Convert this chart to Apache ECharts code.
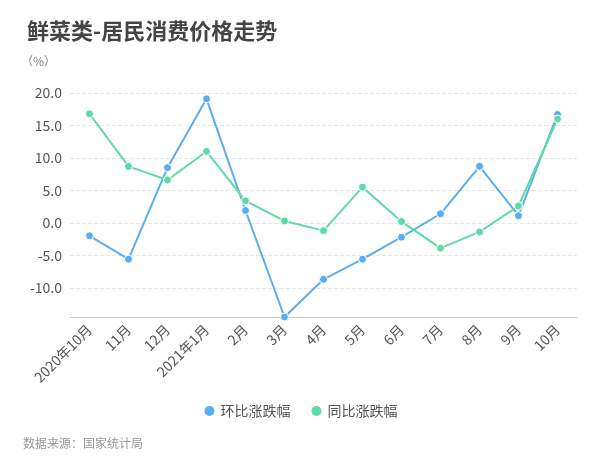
<!DOCTYPE html>
<html><head><meta charset="utf-8">
<script src="https://cdn.jsdelivr.net/npm/echarts@6/dist/echarts.min.js"></script>
<style>html,body{margin:0;padding:0;background:#fff}#c{width:600px;height:470px}</style>
</head><body><div id="c"></div>
<script>
var categories = ['2020年10月','11月','12月','2021年1月','2月','3月','4月','5月','6月','7月','8月','9月','10月'];
var momValues = [-2.0, -5.6, 8.5, 19.1, 1.9, -14.5, -8.7, -5.6, -2.2, 1.4, 8.7, 1.1, 16.7];
var yoyValues = [16.8, 8.7, 6.6, 11.0, 3.4, 0.3, -1.2, 5.5, 0.2, -3.9, -1.4, 2.6, 16.0];
var seriesNames = ['环比涨跌幅', '同比涨跌幅'];
var FONT = '"Noto Sans CJK SC","Noto Sans",sans-serif';
var chart = echarts.init(document.getElementById('c'), null, {renderer:'canvas'});
chart.setOption({
  animation:false,
  color:['#5aaef0','#5ed9a8'],
  textStyle:{fontFamily:FONT},
  title:[
    {text:'鲜菜类-居民消费价格走势', left:22, top:15, textStyle:{fontSize:22, fontWeight:'bold', color:'#444', fontFamily:FONT}},
    {text:'（%）', left:16, top:50, textStyle:{fontSize:12, fontWeight:'normal', color:'#888', fontFamily:FONT}},
    {text:'数据来源：国家统计局', left:18, top:432, textStyle:{fontSize:12, fontWeight:'normal', color:'#999', fontFamily:FONT}}
  ],
  legend:{bottom:47, left:'center', icon:'circle', itemWidth:12, itemHeight:12, itemGap:19,
    textStyle:{fontSize:14, color:'#555', fontFamily:FONT}, data:seriesNames},
  grid:{left:70, right:23, top:93, bottom:153, containLabel:false},
  xAxis:{type:'category', data:categories, boundaryGap:true,
    axisLine:{onZero:false, lineStyle:{color:'#c8c8c8'}},
    axisTick:{alignWithLabel:true, lineStyle:{color:'#c8c8c8'}},
    axisLabel:{rotate:45, fontSize:14, color:'#555', interval:0, margin:10, fontFamily:FONT}},
  yAxis:{type:'value', min:-14.5, max:20, minInterval:5, maxInterval:5, splitNumber:7,
    axisLine:{show:false}, axisTick:{show:false},
    axisLabel:{fontSize:14, color:'#555', fontFamily:FONT, formatter:function(v){return (Math.abs(v% 5)<1e-9)? v.toFixed(1):'';}},
    splitLine:{lineStyle:{type:'dashed', color:'#e6e6e6'}}},
  series:[
    {name:seriesNames[0], type:'line', data:momValues, symbol:'circle', symbolSize:8, showAllSymbol:true,
     lineStyle:{width:2}, itemStyle:{borderColor:'#fff', borderWidth:1}},
    {name:seriesNames[1], type:'line', data:yoyValues, symbol:'circle', symbolSize:8, showAllSymbol:true,
     lineStyle:{width:2}, itemStyle:{borderColor:'#fff', borderWidth:1}}
  ]
});
</script></body></html>
